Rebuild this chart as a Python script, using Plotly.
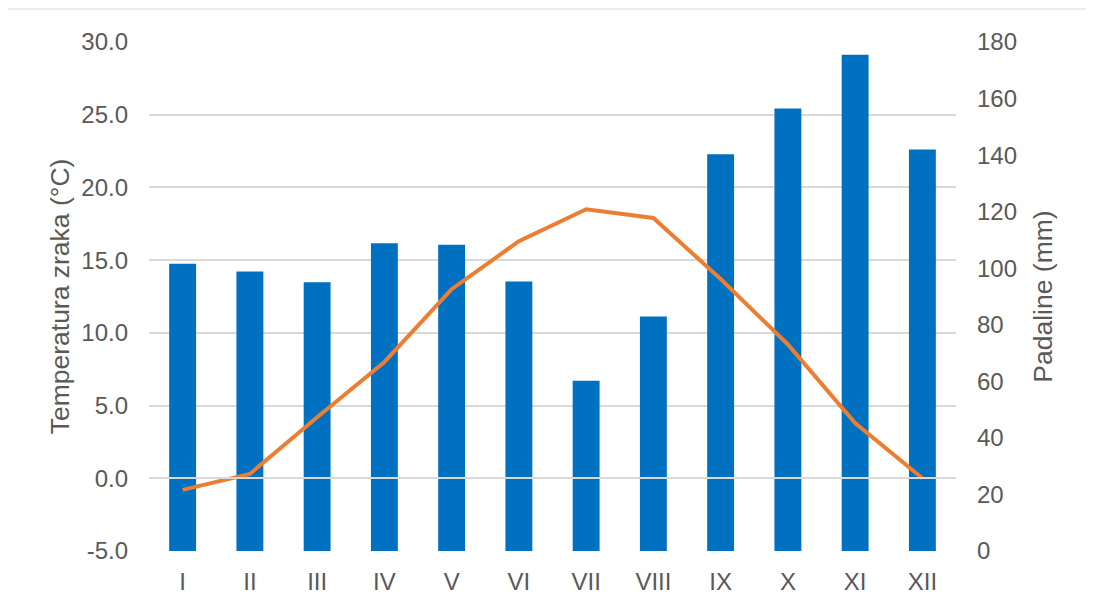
import plotly.graph_objects as go

# Mjeseci, padaline (mm) i srednja temperatura zraka (°C)
months = ["I", "II", "III", "IV", "V", "VI", "VII", "VIII", "IX", "X", "XI", "XII"]
precip_mm = [101.6, 98.8, 95.0, 108.8, 108.3, 95.3, 60.2, 82.9, 140.3, 156.5, 175.5, 142.0]
temp_c = [-0.8, 0.3, 4.2, 8.0, 13.0, 16.3, 18.5, 17.9, 13.7, 9.2, 3.8, 0.0]

temp_ticks = [-5, 0, 5, 10, 15, 20, 25, 30]
temp_ticktext = ["-5.0", "0.0", "5.0", "10.0", "15.0", "20.0", "25.0", "30.0"]
precip_ticks = [0, 20, 40, 60, 80, 100, 120, 140, 160, 180]

FONT = "Arial, Liberation Sans, sans-serif"
TEXT = "#595959"
GRID = "#D9D9D9"

fig = go.Figure()

# Stupci (padaline) na primarnoj osi -> crtaju se ispod linije temperature.
fig.add_trace(go.Bar(
    x=months, y=precip_mm, yaxis="y", name="Padaline",
    marker=dict(color="#0070C0", line=dict(width=0)),
    width=0.4,
))
fig.add_trace(go.Scatter(
    x=months, y=temp_c, yaxis="y2", mode="lines", name="Temperatura",
    line=dict(color="#ED7D31", width=4),
))

# Stranica ima 8px margine body-ja, pa je figura za toliko manja.
fig.update_layout(
    width=1086, height=602,
    margin=dict(l=141, r=138, t=34, b=59),
    paper_bgcolor="white", plot_bgcolor="white",
    showlegend=False,
    font=dict(family=FONT, color=TEXT, size=24),
    xaxis=dict(
        type="category", showgrid=False, showline=False, ticks="",
        tickfont=dict(size=24, color=TEXT), ticklabelstandoff=14,
    ),
    yaxis=dict(
        side="right", range=[0, 180], tickvals=precip_ticks,
        showgrid=False, zeroline=False, showline=False, ticks="",
        tickfont=dict(size=24, color=TEXT), ticklabelstandoff=20,
        title=dict(text="Padaline (mm)", font=dict(size=26.5, color=TEXT), standoff=17),
        automargin=False,
    ),
    yaxis2=dict(
        side="left", overlaying="y", range=[-5, 30],
        tickvals=temp_ticks, ticktext=temp_ticktext,
        showgrid=True, gridcolor=GRID, gridwidth=1.5,
        zeroline=True, zerolinecolor=GRID, zerolinewidth=1.5,
        zerolinelayer="above traces",
        showline=False, ticks="",
        tickfont=dict(size=24, color=TEXT), ticklabelstandoff=20,
        title=dict(text="Temperatura zraka (°C)", font=dict(size=26.5, color=TEXT), standoff=4),
        automargin=False,
    ),
    shapes=[dict(
        type="rect", xref="paper", yref="paper",
        x0=-0.1754, x1=1.3, y0=-0.3, y1=1.0648,
        line=dict(color=GRID, width=1), layer="below",
    )],
)

fig.write_html("out.html")
